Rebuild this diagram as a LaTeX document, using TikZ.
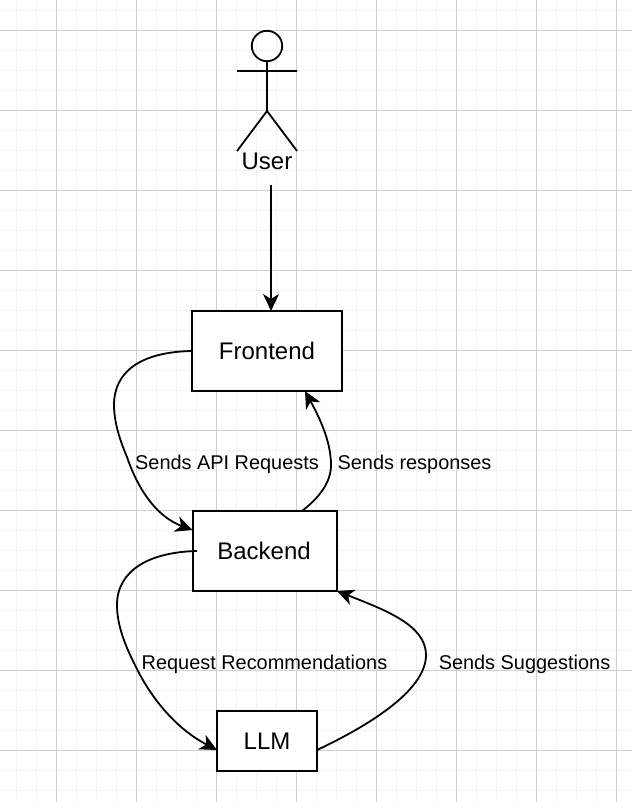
\documentclass[tikz,border=0pt]{standalone}
\usepackage{fontspec}
\setmainfont{Liberation Sans}
\usetikzlibrary{arrows.meta}
\definecolor{gridmajor}{HTML}{D0D0D0}
\definecolor{gridminor}{HTML}{F2F2F2}
\tikzset{
  boxnode/.style={draw=black,line width=2pt,fill=white,inner sep=0pt,outer sep=0pt,anchor=north west},
  boxtext/.style={inner sep=0pt,font=\fontsize{24}{28}\selectfont},
  labelnode/.style={inner sep=0pt,font=\fontsize{19.9}{24}\selectfont},
  conn/.style={draw=black,line width=1.8pt,-{Stealth[length=17pt,width=16pt,inset=5pt]}},
  actorline/.style={draw=black,line width=1.8pt},
}
\begin{document}
\begin{tikzpicture}[x=1pt,y=-1pt]
\useasboundingbox (0,0) rectangle (632,802);
\fill[white] (0,0) rectangle (632,802);
% minor grid
\foreach \i in {0,...,31} {\draw[gridminor,line width=1.3pt] ({16.5+20*\i},0) -- ({16.5+20*\i},802);}
\foreach \j in {0,...,40} {\draw[gridminor,line width=1.3pt] (0,{10.5+20*\j}) -- (632,{10.5+20*\j});}
% major grid
\foreach \i in {0,...,7} {\draw[gridmajor,line width=1pt] ({56.5+80*\i},0) -- ({56.5+80*\i},802);}
\foreach \j in {0,...,9} {\draw[gridmajor,line width=1pt] (0,{30.5+80*\j}) -- (632,{30.5+80*\j});}
% actor
\draw[actorline] (267,46) circle (15.2);
\draw[actorline] (267,61.5) -- (267,111) (237,71) -- (297,71) (237,151) -- (267,111) -- (297,151);
\node[boxtext] (user) at (267,161.5) {User};
% boxes
\node[boxnode,minimum width=150pt,minimum height=80pt] (frontend) at (192,311) {};
\node[boxtext] (frontendtxt) at (267,351) {Frontend};
\node[boxnode,minimum width=144pt,minimum height=80pt] (backend) at (193,511) {};
\node[boxtext] (backendtxt) at (264,551) {Backend};
\node[boxnode,minimum width=100pt,minimum height=60pt] (llm) at (217,711) {};
\node[boxtext] (llmtxt) at (267,741) {LLM};
% anchors for connector ends
\coordinate (userout) at (271,185);
\coordinate (frontin) at (271,311);
\coordinate (backin) at (192.5,530);
\coordinate (backtop) at (302,511);
\coordinate (frontbot) at (305,391);
\coordinate (backout) at (197,551);
\coordinate (llmin) at (217,750);
\coordinate (llmout) at (317,750);
\coordinate (backcorner) at (337,591);
% connectors
\draw[conn] (userout) -- (frontin);
\draw[conn] (frontend.west) .. controls (140,352) and (114,372) .. (114,405) .. controls (114,425) and (122,445) .. (127,457) .. controls (140,495) and (160,518) .. (backin);
\draw[conn] (backtop) .. controls (320,497) and (331,482) .. (331,465) .. controls (331,440) and (318,415) .. (frontbot);
\draw[conn] (backout) .. controls (150,552) and (117,570) .. (117,605) .. controls (117,625) and (125,645) .. (134,663) .. controls (150,697) and (175,728) .. (llmin);
\draw[conn] (llmout) .. controls (370,725) and (426,690) .. (426,655) .. controls (426,625) and (385,610) .. (backcorner);
% labels
\node[labelnode] (l1) at (227,464) {Sends API Requests};
\node[labelnode] (l2) at (414.5,464) {Sends responses};
\node[labelnode] (l3) at (264.5,664) {Request Recommendations};
\node[labelnode] (l4) at (524.5,664) {Sends Suggestions};
\end{tikzpicture}
\end{document}
